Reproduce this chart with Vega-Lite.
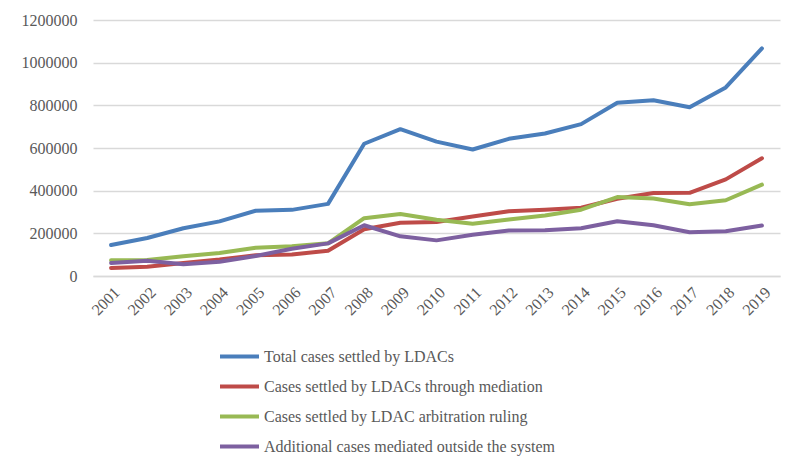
{
  "$schema": "https://vega.github.io/schema/vega-lite/v6.json",
  "width": 687,
  "height": 256,
  "autosize": {"type": "none"},
  "padding": {"left": 93, "top": 20, "right": 20, "bottom": 196},
  "background": "white",
  "config": {"view": {"stroke": null}, "font": "Liberation Serif"},
  "data": {
    "values": [
      {"year": "2001", "series": "Total cases settled by LDACs", "value": 145000},
      {"year": "2002", "series": "Total cases settled by LDACs", "value": 178000},
      {"year": "2003", "series": "Total cases settled by LDACs", "value": 224000},
      {"year": "2004", "series": "Total cases settled by LDACs", "value": 256000},
      {"year": "2005", "series": "Total cases settled by LDACs", "value": 306000},
      {"year": "2006", "series": "Total cases settled by LDACs", "value": 310000},
      {"year": "2007", "series": "Total cases settled by LDACs", "value": 338000},
      {"year": "2008", "series": "Total cases settled by LDACs", "value": 620000},
      {"year": "2009", "series": "Total cases settled by LDACs", "value": 688000},
      {"year": "2010", "series": "Total cases settled by LDACs", "value": 630000},
      {"year": "2011", "series": "Total cases settled by LDACs", "value": 593000},
      {"year": "2012", "series": "Total cases settled by LDACs", "value": 643000},
      {"year": "2013", "series": "Total cases settled by LDACs", "value": 668000},
      {"year": "2014", "series": "Total cases settled by LDACs", "value": 712000},
      {"year": "2015", "series": "Total cases settled by LDACs", "value": 812000},
      {"year": "2016", "series": "Total cases settled by LDACs", "value": 824000},
      {"year": "2017", "series": "Total cases settled by LDACs", "value": 791000},
      {"year": "2018", "series": "Total cases settled by LDACs", "value": 884000},
      {"year": "2019", "series": "Total cases settled by LDACs", "value": 1067000},
      {"year": "2001", "series": "Cases settled by LDACs through mediation", "value": 38000},
      {"year": "2002", "series": "Cases settled by LDACs through mediation", "value": 43000},
      {"year": "2003", "series": "Cases settled by LDACs through mediation", "value": 61000},
      {"year": "2004", "series": "Cases settled by LDACs through mediation", "value": 77000},
      {"year": "2005", "series": "Cases settled by LDACs through mediation", "value": 97000},
      {"year": "2006", "series": "Cases settled by LDACs through mediation", "value": 101000},
      {"year": "2007", "series": "Cases settled by LDACs through mediation", "value": 118000},
      {"year": "2008", "series": "Cases settled by LDACs through mediation", "value": 219000},
      {"year": "2009", "series": "Cases settled by LDACs through mediation", "value": 250000},
      {"year": "2010", "series": "Cases settled by LDACs through mediation", "value": 253000},
      {"year": "2011", "series": "Cases settled by LDACs through mediation", "value": 279000},
      {"year": "2012", "series": "Cases settled by LDACs through mediation", "value": 304000},
      {"year": "2013", "series": "Cases settled by LDACs through mediation", "value": 311000},
      {"year": "2014", "series": "Cases settled by LDACs through mediation", "value": 320000},
      {"year": "2015", "series": "Cases settled by LDACs through mediation", "value": 362000},
      {"year": "2016", "series": "Cases settled by LDACs through mediation", "value": 389000},
      {"year": "2017", "series": "Cases settled by LDACs through mediation", "value": 390000},
      {"year": "2018", "series": "Cases settled by LDACs through mediation", "value": 453000},
      {"year": "2019", "series": "Cases settled by LDACs through mediation", "value": 552000},
      {"year": "2001", "series": "Cases settled by LDAC arbitration ruling", "value": 74000},
      {"year": "2002", "series": "Cases settled by LDAC arbitration ruling", "value": 75000},
      {"year": "2003", "series": "Cases settled by LDAC arbitration ruling", "value": 93000},
      {"year": "2004", "series": "Cases settled by LDAC arbitration ruling", "value": 108000},
      {"year": "2005", "series": "Cases settled by LDAC arbitration ruling", "value": 132000},
      {"year": "2006", "series": "Cases settled by LDAC arbitration ruling", "value": 140000},
      {"year": "2007", "series": "Cases settled by LDAC arbitration ruling", "value": 153000},
      {"year": "2008", "series": "Cases settled by LDAC arbitration ruling", "value": 271000},
      {"year": "2009", "series": "Cases settled by LDAC arbitration ruling", "value": 291000},
      {"year": "2010", "series": "Cases settled by LDAC arbitration ruling", "value": 264000},
      {"year": "2011", "series": "Cases settled by LDAC arbitration ruling", "value": 245000},
      {"year": "2012", "series": "Cases settled by LDAC arbitration ruling", "value": 265000},
      {"year": "2013", "series": "Cases settled by LDAC arbitration ruling", "value": 284000},
      {"year": "2014", "series": "Cases settled by LDAC arbitration ruling", "value": 311000},
      {"year": "2015", "series": "Cases settled by LDAC arbitration ruling", "value": 370000},
      {"year": "2016", "series": "Cases settled by LDAC arbitration ruling", "value": 363000},
      {"year": "2017", "series": "Cases settled by LDAC arbitration ruling", "value": 336000},
      {"year": "2018", "series": "Cases settled by LDAC arbitration ruling", "value": 355000},
      {"year": "2019", "series": "Cases settled by LDAC arbitration ruling", "value": 428000},
      {"year": "2001", "series": "Additional cases mediated outside the system", "value": 61000},
      {"year": "2002", "series": "Additional cases mediated outside the system", "value": 72000},
      {"year": "2003", "series": "Additional cases mediated outside the system", "value": 55000},
      {"year": "2004", "series": "Additional cases mediated outside the system", "value": 67000},
      {"year": "2005", "series": "Additional cases mediated outside the system", "value": 94000},
      {"year": "2006", "series": "Additional cases mediated outside the system", "value": 128000},
      {"year": "2007", "series": "Additional cases mediated outside the system", "value": 153000},
      {"year": "2008", "series": "Additional cases mediated outside the system", "value": 238000},
      {"year": "2009", "series": "Additional cases mediated outside the system", "value": 186000},
      {"year": "2010", "series": "Additional cases mediated outside the system", "value": 167000},
      {"year": "2011", "series": "Additional cases mediated outside the system", "value": 193000},
      {"year": "2012", "series": "Additional cases mediated outside the system", "value": 213000},
      {"year": "2013", "series": "Additional cases mediated outside the system", "value": 214000},
      {"year": "2014", "series": "Additional cases mediated outside the system", "value": 224000},
      {"year": "2015", "series": "Additional cases mediated outside the system", "value": 257000},
      {"year": "2016", "series": "Additional cases mediated outside the system", "value": 238000},
      {"year": "2017", "series": "Additional cases mediated outside the system", "value": 205000},
      {"year": "2018", "series": "Additional cases mediated outside the system", "value": 210000},
      {"year": "2019", "series": "Additional cases mediated outside the system", "value": 237000}
    ]
  },
  "mark": {"type": "line", "strokeWidth": 4, "strokeCap": "round", "strokeJoin": "round"},
  "encoding": {
    "x": {
      "field": "year",
      "type": "ordinal",
      "scale": {"type": "point", "padding": 0.5},
      "axis": {
        "title": null,
        "labelAngle": -45,
        "labelFontSize": 16,
        "labelColor": "#595959",
        "labelPadding": 8,
        "ticks": false,
        "domain": true,
        "domainColor": "#d9d9d9",
        "domainWidth": 1.5,
        "grid": false
      }
    },
    "y": {
      "field": "value",
      "type": "quantitative",
      "scale": {"domain": [0, 1200000]},
      "axis": {
        "title": null,
        "values": [0, 200000, 400000, 600000, 800000, 1000000, 1200000],
        "format": "d",
        "labelFontSize": 16,
        "labelColor": "#595959",
        "labelPadding": 16,
        "ticks": false,
        "domain": false,
        "grid": true,
        "gridColor": "#d9d9d9",
        "gridWidth": 1.5
      }
    },
    "color": {
      "field": "series",
      "type": "nominal",
      "scale": {
        "domain": ["Total cases settled by LDACs", "Cases settled by LDACs through mediation", "Cases settled by LDAC arbitration ruling", "Additional cases mediated outside the system"],
        "range": ["#4a7ebb", "#be4b48", "#98b954", "#7d60a0"]
      },
      "legend": {
        "title": null,
        "orient": "none",
        "legendX": 125,
        "legendY": 315,
        "symbolType": "stroke",
        "symbolSize": 1521,
        "symbolStrokeWidth": 4,
        "labelFontSize": 16,
        "labelColor": "#595959",
        "labelOffset": 3,
        "labelLimit": 0,
        "rowPadding": -8
      }
    }
  }
}
